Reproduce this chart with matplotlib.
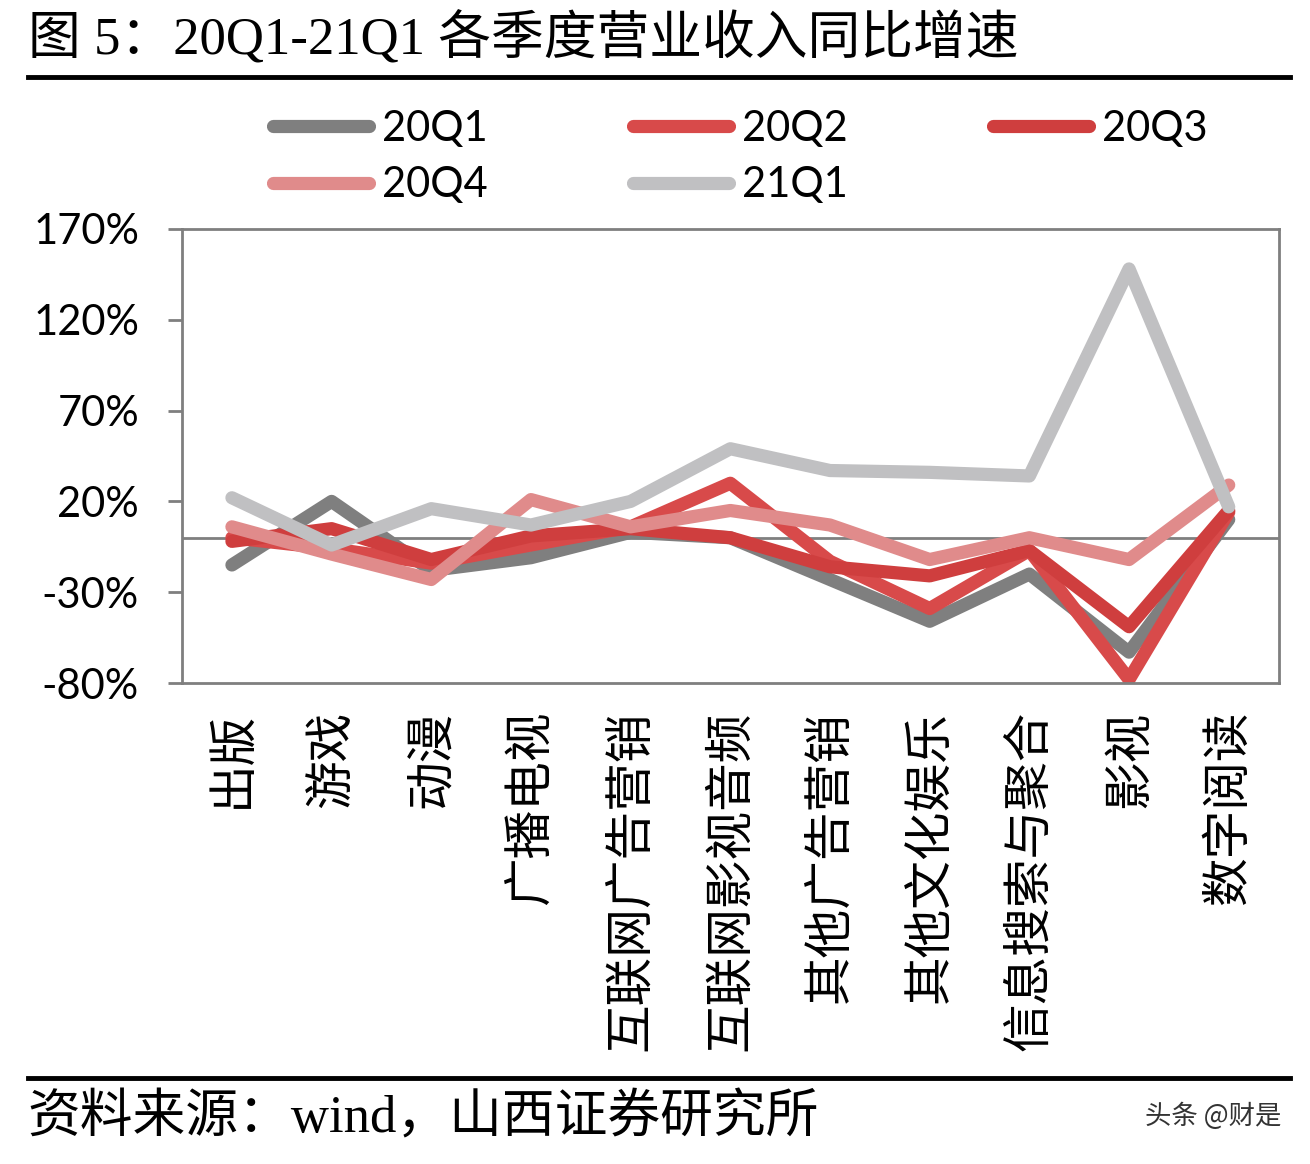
import matplotlib
matplotlib.use('Agg')
import matplotlib.pyplot as plt
from matplotlib.lines import Line2D

plt.rcParams['font.family'] = ['Lato', 'Noto Sans CJK SC', 'DejaVu Sans']

categories = ['出版', '游戏', '动漫', '广播电视', '互联网广告营销', '互联网影视音频',
              '其他广告营销', '其他文化娱乐', '信息搜索与聚合', '影视', '数字阅读']
series_names = ['20Q1', '20Q2', '20Q3', '20Q4', '21Q1']
q1_20 = [-15, 20, -18, -11, 3, 0, -23, -46, -20, -63, 10]
q2_20 = [0, -6, -14, -4, 6, 30, -13, -39, -7, -78, 14]
q3_20 = [-2, 5, -12, 1, 5, 0, -16, -21, -7, -49, 15]
q4_20 = [6, -9, -23, 21, 6, 15, 7, -12, 0, -12, 29]
q1_21 = [22, -4, 16, 7, 20, 49, 37, 36, 34, 148, 17]
yticks = [-80, -30, 20, 70, 120, 170]

colors = ['#7f7f7f', '#d84a4a', '#cf3e3e', '#e08b8b', '#c0c0c2']
values = [q1_20, q2_20, q3_20, q4_20, q1_21]

fig = plt.figure(figsize=(13.1, 11.64), dpi=100)
ax = fig.add_axes([0.139, 0.4132, 0.837, 0.3901])

x = list(range(len(categories)))
for vals, c in zip(values, colors):
    ax.plot(x, vals, color=c, lw=9.5, solid_joinstyle='round', solid_capstyle='round')

ax.axhline(0, color='#7f7f7f', lw=2, zorder=0)
ax.set_xlim(-0.5, len(categories) - 0.5)
ax.set_ylim(-80, 170)
ax.set_yticks(yticks)
ax.set_yticklabels([f'{t}%' for t in yticks], fontsize=30)
ax.set_xticks(x)
ax.set_xticklabels(categories, rotation=90, va='top', ha='center', fontsize=35,
                   family=['Noto Sans CJK SC'], fontweight='light')
ax.tick_params(axis='y', length=10, width=2, color='#7f7f7f', pad=21)
ax.tick_params(axis='x', length=0, pad=20)
for s in ax.spines.values():
    s.set_color('#7f7f7f')
    s.set_linewidth(2)

# legend fills column by column, so reorder to get rows 20Q1 20Q2 20Q3 / 20Q4 21Q1
order = [0, 3, 1, 4, 2]
handles = [Line2D([], [], color=colors[i], lw=9.5, solid_capstyle='round') for i in order]
labels = [series_names[i] for i in order]
fig.legend(handles, labels, loc='upper left', bbox_to_anchor=(0.18, 0.938),
           ncol=3, frameon=False, fontsize=30, handlelength=2.3,
           handletextpad=0.3, columnspacing=3.5, labelspacing=0.45)

fig.text(0.021, 0.967, '图 5：20Q1-21Q1 各季度营业收入同比增速', fontsize=38, va='center',
         family=['Liberation Serif', 'Noto Sans CJK SC'])
fig.add_artist(Line2D([0.021, 0.985], [0.934, 0.934], color='black', lw=3.5))
fig.add_artist(Line2D([0.021, 0.985], [0.074, 0.074], color='black', lw=3.5))
fig.text(0.021, 0.039, '资料来源：wind，山西证券研究所', fontsize=38, va='center',
         family=['Liberation Serif', 'Noto Sans CJK SC'])
fig.text(0.978, 0.041, '头条 @财是', fontsize=19, va='center', ha='right', color='#333333',
         family=['Noto Sans CJK SC'])

fig.savefig('out.png', dpi=100)
